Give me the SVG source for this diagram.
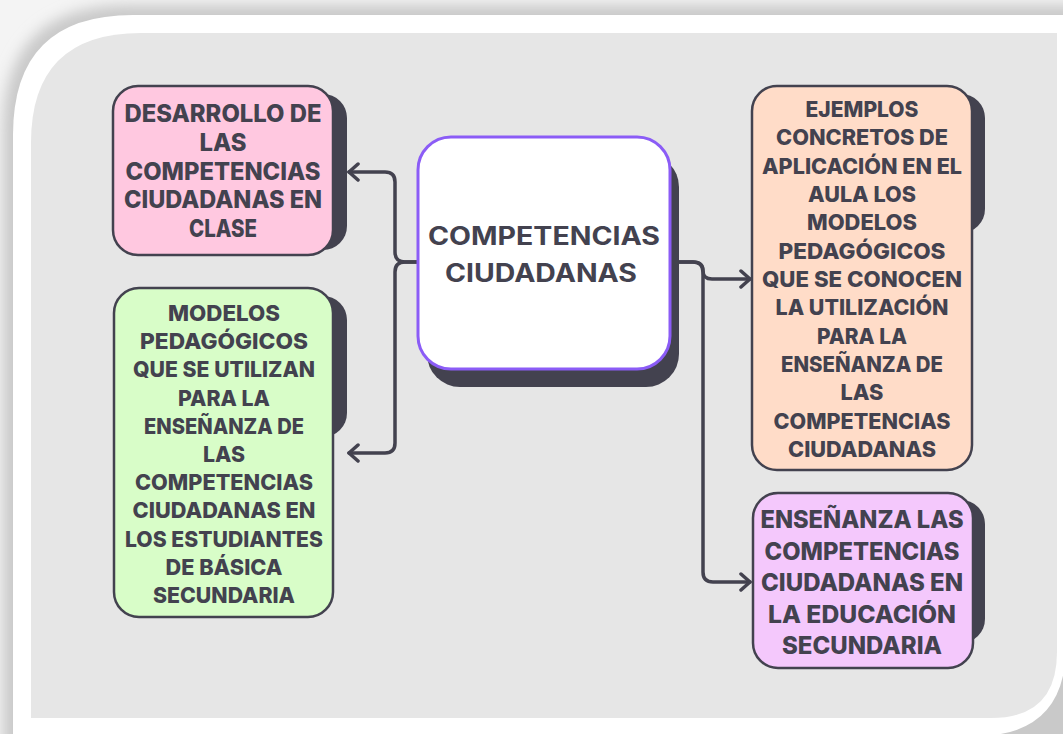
<svg xmlns="http://www.w3.org/2000/svg" width="1063" height="734" viewBox="0 0 1063 734">
  <defs>
    <filter id="blur" x="-10%" y="-10%" width="120%" height="120%">
      <feGaussianBlur stdDeviation="7"/>
    </filter>
    <marker id="arr" viewBox="0 0 14 22" markerWidth="14" markerHeight="22" refX="12" refY="11" orient="auto" markerUnits="userSpaceOnUse">
      <path d="M3,3 L12,11 L3,19" fill="none" stroke="#43424f" stroke-width="3.5" stroke-linecap="round" stroke-linejoin="round"/>
    </marker>
  </defs>
  <style>
    .node { stroke: #43424f; stroke-width: 2.5; }
    .shadow { fill: #43424f; }
    .t { font-family: "Inter", "Open Sans", "DejaVu Sans", sans-serif; font-weight: 800; font-size: 24px; fill: #43424f; text-anchor: middle; }
    .s { font-size: 22px; }
    .tc { font-family: "Inter", "Open Sans", "DejaVu Sans", sans-serif; font-weight: 700; font-size: 25px; fill: #43424f; text-anchor: middle; }
    .conn { fill: none; stroke: #43424f; stroke-width: 3.5; stroke-linecap: round; stroke-linejoin: round; }
  </style>

  <!-- frame -->
  <rect x="0" y="0" width="1063" height="734" fill="#f4f4f4"/>
  <path d="M3,130 Q3,5 128,5 H1080 V750 H3 Z" fill="#c9c9c9" filter="url(#blur)"/>
  <path d="M13,135 Q13,15 133,15 H1066 V646 Q1066,736 976,736 H13 Z" fill="#ffffff"/>
  <path d="M31,143 Q31,33 141,33 H1057 V652 Q1057,718 991,718 H31 Z" fill="#e6e6e6"/>

  <!-- connectors -->
  <g id="connectors">
    <path class="conn" marker-end="url(#arr)" d="M418,262 H405 Q395,262 395,252 V182 Q395,172 385,172 H349"/>
    <path class="conn" marker-end="url(#arr)" d="M418,262 H405 Q395,262 395,272 V443 Q395,453 385,453 H349"/>
    <path class="conn" marker-end="url(#arr)" d="M670,262 H693 Q703,262 703,271 Q703,279 712,279 H750"/>
    <path class="conn" marker-end="url(#arr)" d="M670,262 H693 Q703,262 703,272 V572 Q703,582 713,582 H750"/>
  </g>

  <!-- center -->
  <g id="node-center">
    <rect class="shadow" x="427" y="154" width="252" height="233" rx="33"/>
    <rect x="418" y="137" width="252" height="232" rx="33" fill="#ffffff" stroke="#8b5cf6" stroke-width="3"/>
    <text class="tc" x="544" y="245" textLength="232" lengthAdjust="spacingAndGlyphs">COMPETENCIAS</text>
    <text class="tc" x="541" y="282" textLength="192" lengthAdjust="spacingAndGlyphs">CIUDADANAS</text>
  </g>

  <!-- pink -->
  <g id="node-desarrollo">
    <rect class="shadow" x="127" y="94" width="220" height="156" rx="24"/>
    <rect class="node" x="113" y="86" width="220" height="169" rx="25" fill="#ffc8e0"/>
    <text class="t" x="223" y="122" textLength="197" lengthAdjust="spacingAndGlyphs">DESARROLLO DE</text>
    <text class="t" x="223" y="150.75" textLength="47" lengthAdjust="spacingAndGlyphs">LAS</text>
    <text class="t" x="223" y="179.5" textLength="195" lengthAdjust="spacingAndGlyphs">COMPETENCIAS</text>
    <text class="t" x="223" y="208.25" textLength="198" lengthAdjust="spacingAndGlyphs">CIUDADANAS EN</text>
    <text class="t" x="223" y="237" textLength="68" lengthAdjust="spacingAndGlyphs">CLASE</text>
  </g>

  <!-- green -->
  <g id="node-modelos">
    <rect class="shadow" x="128" y="296" width="219" height="141" rx="24"/>
    <rect class="node" x="114" y="288" width="219" height="329" rx="25" fill="#d8fdc8"/>
    <text class="t s" x="224" y="321" textLength="112" lengthAdjust="spacingAndGlyphs">MODELOS</text>
    <text class="t s" x="224" y="349.2" textLength="168" lengthAdjust="spacingAndGlyphs">PEDAGÓGICOS</text>
    <text class="t s" x="224" y="377.4" textLength="182" lengthAdjust="spacingAndGlyphs">QUE SE UTILIZAN</text>
    <text class="t s" x="224" y="405.6" textLength="92" lengthAdjust="spacingAndGlyphs">PARA LA</text>
    <text class="t s" x="224" y="433.8" textLength="160" lengthAdjust="spacingAndGlyphs">ENSEÑANZA DE</text>
    <text class="t s" x="224" y="462" textLength="42" lengthAdjust="spacingAndGlyphs">LAS</text>
    <text class="t s" x="224" y="490.2" textLength="178" lengthAdjust="spacingAndGlyphs">COMPETENCIAS</text>
    <text class="t s" x="224" y="518.4" textLength="183" lengthAdjust="spacingAndGlyphs">CIUDADANAS EN</text>
    <text class="t s" x="224" y="546.6" textLength="198" lengthAdjust="spacingAndGlyphs">LOS ESTUDIANTES</text>
    <text class="t s" x="224" y="574.8" textLength="117" lengthAdjust="spacingAndGlyphs">DE BÁSICA</text>
    <text class="t s" x="224" y="603" textLength="142" lengthAdjust="spacingAndGlyphs">SECUNDARIA</text>
  </g>

  <!-- peach -->
  <g id="node-ejemplos">
    <rect class="shadow" x="765" y="94" width="220" height="139" rx="24"/>
    <rect class="node" x="752" y="86" width="220" height="384" rx="25" fill="#ffdcc8"/>
    <text class="t s" x="862" y="117" textLength="113" lengthAdjust="spacingAndGlyphs">EJEMPLOS</text>
    <text class="t s" x="862" y="145.3" textLength="172" lengthAdjust="spacingAndGlyphs">CONCRETOS DE</text>
    <text class="t s" x="862" y="173.7" textLength="200" lengthAdjust="spacingAndGlyphs">APLICACIÓN EN EL</text>
    <text class="t s" x="862" y="202" textLength="108" lengthAdjust="spacingAndGlyphs">AULA LOS</text>
    <text class="t s" x="862" y="230.3" textLength="110" lengthAdjust="spacingAndGlyphs">MODELOS</text>
    <text class="t s" x="862" y="258.7" textLength="167" lengthAdjust="spacingAndGlyphs">PEDAGÓGICOS</text>
    <text class="t s" x="862" y="287" textLength="200" lengthAdjust="spacingAndGlyphs">QUE SE CONOCEN</text>
    <text class="t s" x="862" y="315.3" textLength="173" lengthAdjust="spacingAndGlyphs">LA UTILIZACIÓN</text>
    <text class="t s" x="862" y="343.7" textLength="90" lengthAdjust="spacingAndGlyphs">PARA LA</text>
    <text class="t s" x="862" y="372" textLength="162" lengthAdjust="spacingAndGlyphs">ENSEÑANZA DE</text>
    <text class="t s" x="862" y="400.3" textLength="43" lengthAdjust="spacingAndGlyphs">LAS</text>
    <text class="t s" x="862" y="428.7" textLength="177" lengthAdjust="spacingAndGlyphs">COMPETENCIAS</text>
    <text class="t s" x="862" y="457" textLength="148" lengthAdjust="spacingAndGlyphs">CIUDADANAS</text>
  </g>

  <!-- purple -->
  <g id="node-ensenanza">
    <rect class="shadow" x="766" y="500" width="219" height="143" rx="24"/>
    <rect class="node" x="753" y="493" width="220" height="175" rx="25" fill="#f4c8fc"/>
    <text class="t" x="862" y="528" textLength="203" lengthAdjust="spacingAndGlyphs">ENSEÑANZA LAS</text>
    <text class="t" x="862" y="559.5" textLength="195" lengthAdjust="spacingAndGlyphs">COMPETENCIAS</text>
    <text class="t" x="862" y="591" textLength="202" lengthAdjust="spacingAndGlyphs">CIUDADANAS EN</text>
    <text class="t" x="862" y="622.5" textLength="188" lengthAdjust="spacingAndGlyphs">LA EDUCACIÓN</text>
    <text class="t" x="862" y="654" textLength="160" lengthAdjust="spacingAndGlyphs">SECUNDARIA</text>
  </g>
</svg>
